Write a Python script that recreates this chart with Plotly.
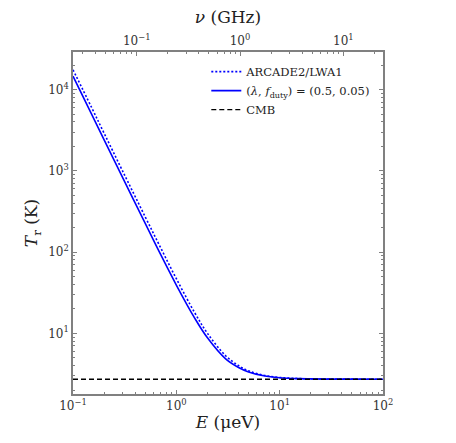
import plotly.graph_objects as go

# energies in micro-eV, temperatures in K
energy = [0.1, 0.15, 0.2, 0.3, 0.5, 0.7, 1.0, 1.5, 2.0, 3.0, 4.0, 5.0, 7.0,
          10.0, 15.0, 20.0, 30.0, 50.0, 100.0]
t_arcade = [17500, 6150, 2900, 1010, 271, 115, 47, 18.1, 10.0, 5.3, 4.0, 3.45,
            3.05, 2.86, 2.78, 2.75, 2.735, 2.727, 2.725]
t_model = [14600, 5080, 2400, 840, 225, 95, 39.3, 15.5, 8.8, 4.85, 3.8, 3.35,
           3.0, 2.84, 2.765, 2.745, 2.73, 2.726, 2.725]
t_cmb = [2.725, 2.725]
e_cmb = [0.1, 100.0]

e_ticks = [0.1, 1, 10, 100]
e_labels = ["10<sup>−1</sup>", "10<sup>0</sup>", "10<sup>1</sup>", "10<sup>2</sup>"]
nu_ticks = [0.1, 1, 10]
nu_labels = ["10<sup>−1</sup>", "10<sup>0</sup>", "10<sup>1</sup>"]
t_ticks = [10, 100, 1000, 10000]
t_labels = ["10<sup>1</sup>", "10<sup>2</sup>", "10<sup>3</sup>", "10<sup>4</sup>"]

ghz_per_uev = 0.2418  # nu = E / h
nu_edges = [e * ghz_per_uev for e in e_cmb]

gray = "#808080"
serif = "DejaVu Serif"


def minor_ticks(lo, hi):
    # 2..9 times every power of ten between 10^lo and 10^hi
    return [m * 10.0 ** k for k in range(lo, hi) for m in range(2, 10)]


def minor(vals):
    return dict(tickmode="array", tickvals=vals, ticks="inside", ticklen=2.5,
                tickwidth=1, tickcolor=gray, showgrid=False)


fig = go.Figure()
fig.add_trace(go.Scatter(x=energy, y=t_arcade, mode="lines", name="ARCADE2/LWA1",
                         line=dict(color="#0000ff", width=1.6, dash="2px,2px", shape="spline")))
fig.add_trace(go.Scatter(x=energy, y=t_model, mode="lines",
                         name="(<i>λ</i>, <i>f</i><sub>duty</sub>) = (0.5, 0.05)",
                         line=dict(color="#0000ff", width=1.6, shape="spline")))
fig.add_trace(go.Scatter(x=e_cmb, y=t_cmb, mode="lines", name="CMB",
                         line=dict(color="black", width=1.4, dash="5px,3px")))
# dummy trace so the top frequency axis gets drawn
fig.add_trace(go.Scatter(x=nu_edges, y=[None, None], xaxis="x2", mode="lines",
                         showlegend=False, hoverinfo="skip"))

fig.update_layout(
    width=456, height=443,
    margin=dict(l=73, r=73, t=52, b=49),
    paper_bgcolor="white", plot_bgcolor="white",
    font=dict(family=serif, size=12, color="#333"),
    showlegend=True,
    legend=dict(x=0.43, y=0.985, xanchor="left", yanchor="top",
                bgcolor="rgba(0,0,0,0)", font=dict(size=11.5, color="#222"),
                tracegroupgap=0, itemwidth=30),
    xaxis=dict(type="log", range=[-1, 2], tickvals=e_ticks, ticktext=e_labels,
               showline=True, linecolor=gray, linewidth=1.5, mirror=False,
               ticks="inside", ticklen=4.5, tickwidth=1, tickcolor=gray, showgrid=False,
               zeroline=False, minor=minor(minor_ticks(-1, 2)), automargin=False,
               title=dict(text="<i>E</i> (μeV)", font=dict(size=17, color="#222"),
                          standoff=4)),
    xaxis2=dict(type="log", overlaying="x", side="top",
                range=[-1.6165, 1.3835], tickvals=nu_ticks, ticktext=nu_labels,
                showline=True, linecolor=gray, linewidth=1.5,
                ticks="inside", ticklen=4.5, tickwidth=1, tickcolor=gray, showgrid=False,
                zeroline=False, minor=minor(minor_ticks(-2, 2)), automargin=False,
                title=dict(text="<i>ν</i> (GHz)", font=dict(size=17, color="#222"),
                           standoff=4)),
    yaxis=dict(type="log", range=[0.253, 4.462], tickvals=t_ticks, ticktext=t_labels,
               showline=True, linecolor=gray, linewidth=1.5, mirror="ticks",
               ticks="inside", ticklen=4.5, tickwidth=1, tickcolor=gray, showgrid=False,
               zeroline=False, minor=minor(minor_ticks(0, 5)), automargin=False,
               title=dict(text="<i>T</i><sub>r</sub> (K)", font=dict(size=17, color="#222"),
                          standoff=6)),
)

# the browser's default 8px body margin would shift the whole figure
fig.write_html("out.html", config={"displayModeBar": False},
               post_script="document.body.style.margin='0';")
